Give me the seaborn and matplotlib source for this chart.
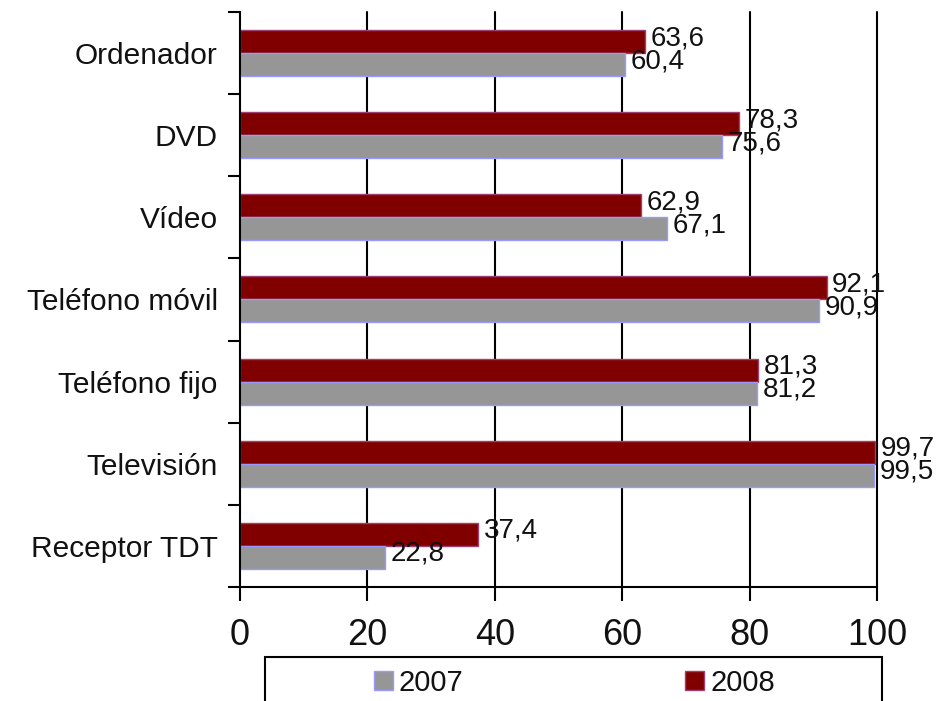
import matplotlib
matplotlib.use("Agg")
import matplotlib.pyplot as plt
import seaborn as sns
import pandas as pd
from matplotlib.patches import Patch, Rectangle

categories = ["Ordenador", "DVD", "Vídeo", "Teléfono móvil", "Teléfono fijo", "Televisión", "Receptor TDT"]
values_2007 = [60.4, 75.6, 67.1, 90.9, 81.2, 99.5, 22.8]
values_2008 = [63.6, 78.3, 62.9, 92.1, 81.3, 99.7, 37.4]
x_ticks = [0, 20, 40, 60, 80, 100]
years = ["2008", "2007"]

df = pd.DataFrame({
    "cat": categories * 2,
    "value": values_2008 + values_2007,
    "year": ["2008"] * len(categories) + ["2007"] * len(categories),
})

sns.set_style("white")
plt.rcParams["font.family"] = ["Liberation Sans", "DejaVu Sans"]

fig = plt.figure(figsize=(9.47, 7.01), dpi=100)
ax = fig.add_axes([0.2534, 0.1626, 0.6727, 0.8204])

colors = {"2008": "#800000", "2007": "#969696"}
edges = {"2008": "#A04070", "2007": "#9999FF"}

sns.barplot(data=df, x="value", y="cat", hue="year", hue_order=years,
            palette=colors, orient="h", width=0.56, legend=False, ax=ax,
            saturation=1)

for cont, yr in zip(ax.containers, years):
    for bar in cont:
        bar.set_edgecolor(edges[yr])
        bar.set_linewidth(1.0)
        w = bar.get_width()
        ax.annotate(f"{w:.1f}".replace(".", ","),
                    xy=(w, bar.get_y() + bar.get_height() / 2),
                    xytext=(4, 2.5), textcoords="offset points",
                    ha="left", va="center", fontsize=20, color="#111111")

ax.set_xlim(0, 100)
ax.set_ylim(len(categories) - 0.5, -0.5)
ax.set_xticks(x_ticks)
ax.set_xticklabels([str(t) for t in x_ticks], fontsize=26)
ax.set_yticks(range(len(categories)))
ax.set_yticklabels(categories, fontsize=21.5)
ax.set_yticks([i - 0.5 for i in range(len(categories) + 1)], minor=True)
ax.tick_params(axis="y", which="major", length=0, pad=16)
ax.tick_params(axis="y", which="minor", length=9, width=1.5, color="black", direction="out", left=True)
ax.tick_params(axis="x", which="major", length=10, width=1.5, color="black", direction="out", pad=12, bottom=True)
for lab in ax.get_xticklabels() + ax.get_yticklabels():
    lab.set_color("#111111")
ax.set_xlabel("")
ax.set_ylabel("")

ax.grid(False)
for t in x_ticks[1:]:
    ax.axvline(t, color="black", linewidth=1.5, zorder=0, clip_on=False)

for s in ["top", "right"]:
    ax.spines[s].set_visible(False)
for s in ["left", "bottom"]:
    ax.spines[s].set_color("black")
    ax.spines[s].set_linewidth(1.5)

# legend frame (extends past the bottom edge like the reference)
fig.add_artist(Rectangle((265 / 947, -0.1), (882 - 265) / 947, 0.1 + (1 - 657 / 701),
                         transform=fig.transFigure, facecolor="none",
                         edgecolor="black", linewidth=1.5))

handles = [Patch(facecolor=colors["2007"], edgecolor=edges["2007"], label="2007"),
           Patch(facecolor=colors["2008"], edgecolor=edges["2008"], label="2008")]
leg = fig.legend(handles=handles, loc="center",
                 bbox_to_anchor=(574.5 / 947, 1 - 683 / 701),
                 ncol=2, fontsize=21, frameon=False,
                 handlelength=0.65, handleheight=0.65, handletextpad=0.2,
                 columnspacing=7.6, borderpad=0, borderaxespad=0)
for t in leg.get_texts():
    t.set_color("#111111")

fig.savefig("out.png", dpi=100)
